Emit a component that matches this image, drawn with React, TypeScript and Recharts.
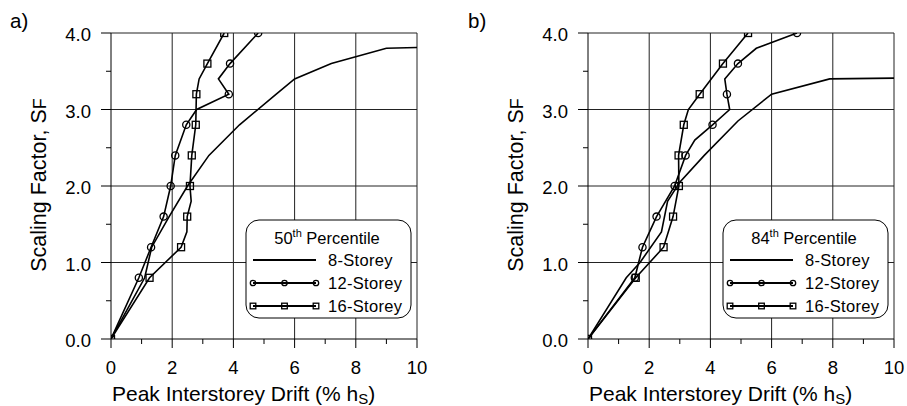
import React from "react";
import { LineChart, Line, XAxis, YAxis, ReferenceLine } from "recharts";

// Peak interstorey drift (% hs) vs scaling factor SF
const a8: [number, number][] = [
  [0, 0], [0.55, 0.4], [1.1, 0.8], [1.33, 1.2], [1.9, 1.6], [2.5, 2.0], [3.2, 2.4],
  [4.2, 2.8], [5.4, 3.2], [6.0, 3.4], [7.2, 3.6], [9.0, 3.8], [10, 3.81],
];
const a12: [number, number][] = [
  [0, 0], [0.91, 0.8], [1.31, 1.2], [1.72, 1.6], [1.95, 2.0], [2.1, 2.4], [2.46, 2.8],
  [2.8, 3.0], [3.85, 3.2], [3.51, 3.4], [3.89, 3.6], [4.81, 4.0],
];
const a16: [number, number][] = [
  [0, 0], [1.26, 0.8], [2.29, 1.2], [2.48, 1.4], [2.49, 1.6], [2.62, 1.8], [2.58, 2.0],
  [2.64, 2.4], [2.77, 2.8], [2.79, 3.2], [2.88, 3.4], [3.15, 3.6], [3.7, 4.0],
];
const b8: [number, number][] = [
  [0, 0], [1.25, 0.8], [1.7, 1.0], [2.4, 1.4], [2.6, 1.8], [3.0, 2.05], [3.8, 2.4],
  [4.9, 2.85], [6.0, 3.2], [7.9, 3.4], [10, 3.41],
];
const b12: [number, number][] = [
  [0, 0], [1.53, 0.8], [1.78, 1.2], [2.24, 1.6], [2.83, 2.0], [3.19, 2.4], [3.49, 2.6],
  [4.07, 2.8], [4.63, 3.0], [4.54, 3.2], [4.47, 3.4], [4.9, 3.6], [5.5, 3.8], [6.83, 4.0],
];
const b16: [number, number][] = [
  [0, 0], [1.56, 0.8], [2.47, 1.2], [2.78, 1.6], [2.97, 2.0], [2.96, 2.4], [3.13, 2.8],
  [3.28, 3.0], [3.65, 3.2], [4.41, 3.6], [5.23, 4.0],
];

const X_TICKS = [0, 1, 2, 3, 4, 5, 6, 7, 8, 9, 10];
const Y_TICKS = [0, 0.5, 1, 1.5, 2, 2.5, 3, 3.5, 4];
const X_GRID = [2, 4, 6, 8, 10];
const Y_GRID = [1, 2, 3, 4];
const SERIES = ["8-Storey", "12-Storey", "16-Storey"];

const FONT = "'Liberation Sans', Arial, sans-serif";

const toPts = (arr: [number, number][]) => arr.map(([x, y]) => ({ x, y }));

// markers only on the SF = 0.4 steps
const hasMark = (y: number) => Math.round(y * 10) % 4 === 0;

const circleDot = (p: any) => {
  const { cx, cy, payload, index } = p;
  if (!hasMark(payload.y)) return <g key={`c${index}`} />;
  return <circle key={`c${index}`} cx={cx} cy={cy} r={3.6} fill="none" stroke="#000" strokeWidth={1.3} />;
};
const squareDot = (p: any) => {
  const { cx, cy, payload, index } = p;
  if (!hasMark(payload.y)) return <g key={`s${index}`} />;
  return <rect key={`s${index}`} x={cx - 3.5} y={cy - 3.5} width={7} height={7} fill="none" stroke="#000" strokeWidth={1.3} />;
};

const XTick = (p: any) => {
  const { x, y, payload } = p;
  const major = payload.value % 2 === 0;
  return (
    <g>
      <line x1={x} y1={y} x2={x} y2={y + (major ? 9 : 5)} stroke="#000" />
      {major && (
        <text x={x} y={y + 35} textAnchor="middle" fontSize={18.5} fontFamily={FONT} fill="#000">
          {payload.value}
        </text>
      )}
    </g>
  );
};

const YTick = (p: any) => {
  const { x, y, payload } = p;
  const major = Number.isInteger(payload.value);
  return (
    <g>
      <line x1={x} y1={y} x2={x - (major ? 10 : 5)} y2={y} stroke="#000" />
      {major && (
        <text x={x - 20} y={y + 8} textAnchor="end" fontSize={18.5} fontFamily={FONT} fill="#000">
          {payload.value.toFixed(1)}
        </text>
      )}
    </g>
  );
};

const Panel = ({ s8, s12, s16, left, right }: any) => (
  <LineChart width={453} height={406} margin={{ top: 33, right, bottom: 37, left }}>
    <XAxis
      type="number"
      dataKey="x"
      domain={[0, 10]}
      ticks={X_TICKS}
      height={30}
      tickSize={0}
      tickMargin={0}
      tick={XTick}
      axisLine={{ stroke: "#000" }}
      allowDataOverflow
    />
    <YAxis
      type="number"
      dataKey="y"
      domain={[0, 4]}
      ticks={Y_TICKS}
      width={50}
      tickSize={0}
      tickMargin={0}
      tick={YTick}
      axisLine={{ stroke: "#000" }}
      allowDataOverflow
    />
    {X_GRID.map((v) => (
      <ReferenceLine key={`gx${v}`} x={v} stroke="#222" strokeWidth={1} />
    ))}
    {Y_GRID.map((v) => (
      <ReferenceLine key={`gy${v}`} y={v} stroke="#222" strokeWidth={1} />
    ))}
    <Line data={toPts(s8)} dataKey="y" stroke="#000" strokeWidth={1.6} dot={false} isAnimationActive={false} />
    <Line data={toPts(s12)} dataKey="y" stroke="#000" strokeWidth={1.6} dot={circleDot} isAnimationActive={false} />
    <Line data={toPts(s16)} dataKey="y" stroke="#000" strokeWidth={1.6} dot={squareDot} isAnimationActive={false} />
  </LineChart>
);

const LegendBox = ({ x, pct }: { x: number; pct: string }) => {
  const rows = [260, 283, 306];
  return (
    <g fontFamily={FONT} fill="#000">
      <rect x={x} y={220} width={165} height={98} rx={13} fill="#fff" stroke="#000" strokeWidth={1} />
      <text x={x + 81} y={244} textAnchor="middle" fontSize={16.5}>
        {pct}
        <tspan fontSize={11} dy={-7}>th</tspan>
        <tspan dy={7}> Percentile</tspan>
      </text>
      {SERIES.map((name, i) => (
        <g key={name}>
          <line x1={x + 7} y1={rows[i]} x2={x + 70} y2={rows[i]} stroke="#000" strokeWidth={1.8} />
          {i === 1 &&
            [7, 38.5, 70].map((d) => (
              <circle key={d} cx={x + d} cy={rows[i]} r={2.7} fill="none" stroke="#000" strokeWidth={1.3} />
            ))}
          {i === 2 &&
            [7, 38.5, 70].map((d) => (
              <rect key={d} x={x + d - 2.8} y={rows[i] - 2.8} width={5.6} height={5.6} fill="none" stroke="#000" strokeWidth={1.3} />
            ))}
          <text x={x + 82} y={rows[i] + 6} fontSize={16.5} letterSpacing={0.3}>
            {name}
          </text>
        </g>
      ))}
    </g>
  );
};

const AxisLabels = ({ dx }: { dx: number }) => (
  <g fontFamily={FONT} fill="#000">
    <text transform={`translate(${dx + 46},185) rotate(-90)`} textAnchor="middle" fontSize={21.5}>
      Scaling Factor, S<tspan fontSize={18}>F</tspan>
    </text>
    <text x={dx + 112} y={401} fontSize={21}>
      Peak Interstorey Drift (% h<tspan fontSize={15} dy={3}>S</tspan>
      <tspan dy={-3}>)</tspan>
    </text>
  </g>
);

export default function App() {
  return (
    <div style={{ position: "absolute", left: 0, top: 0, width: 907, height: 406, background: "#fff" }}>
      <div style={{ position: "absolute", left: 0, top: 0 }}>
        <Panel s8={a8} s12={a12} s16={a16} left={61} right={36} />
      </div>
      <div style={{ position: "absolute", left: 454, top: 0 }}>
        <Panel s8={b8} s12={b12} s16={b16} left={84} right={13} />
      </div>
      <svg width={907} height={406} style={{ position: "absolute", left: 0, top: 0, pointerEvents: "none" }}>
        <text x={10} y={28} fontSize={20.5} fontFamily={FONT}>a)</text>
        <text x={468} y={28} fontSize={20.5} fontFamily={FONT}>b)</text>
        <AxisLabels dx={0} />
        <AxisLabels dx={477} />
        <LegendBox x={246} pct="50" />
        <LegendBox x={723} pct="84" />
      </svg>
    </div>
  );
}
